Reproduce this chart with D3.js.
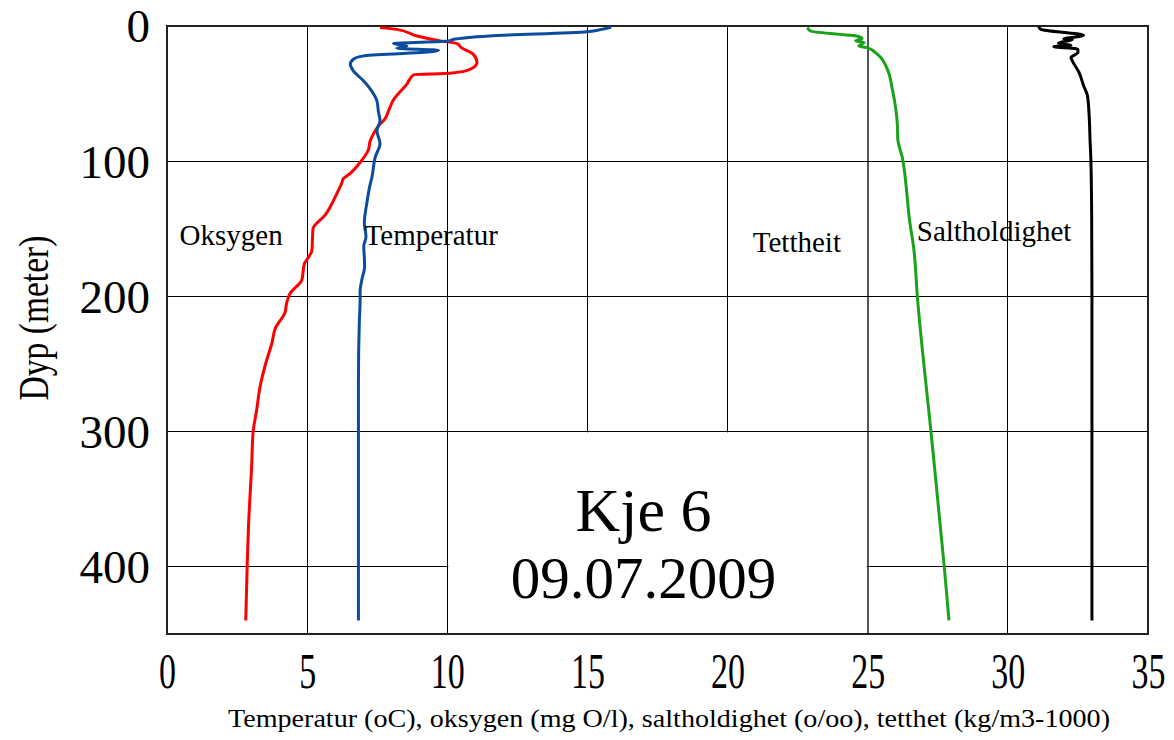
<!DOCTYPE html>
<html>
<head>
<meta charset="utf-8">
<script src="https://cdn.jsdelivr.net/npm/d3@7"></script>
<style>
  body { margin: 0; background: #fff; }
</style>
</head>
<body>
<script>
// CTD profile, Kje 6, 09.07.2009
const depthTicks = [0, 100, 200, 300, 400];
const valueTicks = [0, 5, 10, 15, 20, 25, 30, 35];

// oxygen (mg O/l) vs depth (m)
const oxyDepth = [1.2, 2.5, 7.4, 11, 13, 16, 21, 27, 32, 35, 36, 43, 55, 60, 63, 70, 72.5, 77.5, 85, 92, 101, 109, 113, 116, 124, 140, 150, 166, 173, 176, 188, 198, 205, 212, 224, 235, 247, 267, 284, 301, 326, 360, 400, 440];
const oxyValue = [7.6, 8.2, 8.92, 9.75, 10.35, 10.5, 10.93, 11.06, 10.82, 10.1, 8.8, 8.56, 8.07, 7.96, 7.9, 7.73, 7.6, 7.43, 7.25, 7.18, 6.89, 6.54, 6.29, 6.24, 6.06, 5.64, 5.21, 5.17, 4.99, 4.9, 4.81, 4.39, 4.27, 4.21, 3.86, 3.74, 3.56, 3.32, 3.2, 3.07, 3.02, 2.93, 2.86, 2.81];

// temperature (oC)
const tempDepth = [0.7, 2.5, 4.2, 7.4, 10, 11.1, 13.0, 14.8, 16.5, 18.0, 19.7, 22.1, 24.6, 28.3, 33.2, 40.6, 48, 55.4, 63, 70, 77.5, 87, 97, 112, 117, 131, 146, 156, 163, 171, 178, 188, 196, 203, 220, 264, 338, 440];
const tempValue = [15.85, 15.5, 15.0, 11.5, 10.2, 10.05, 8.08, 8.56, 8.2, 9.69, 9.04, 7.01, 6.65, 6.54, 6.65, 7.01, 7.3, 7.49, 7.54, 7.6, 7.49, 7.6, 7.43, 7.31, 7.25, 7.13, 7.04, 7.1, 7.02, 7.04, 7.05, 6.95, 6.89, 6.89, 6.86, 6.83, 6.83, 6.83];

// density (kg/m3-1000)
const densDepth = [1.2, 3.7, 6.2, 7.4, 9.4, 11, 12.3, 14.8, 16, 22, 32, 47, 74, 83, 98, 129, 140, 166, 200, 299, 400, 440];
const densValue = [22.85, 22.96, 24.0, 24.6, 24.8, 24.57, 24.87, 24.68, 24.98, 25.4, 25.7, 25.88, 26.06, 26.07, 26.24, 26.42, 26.47, 26.65, 26.77, 27.25, 27.73, 27.9];

// salinity (o/oo)
const saltDepth = [0.5, 2.5, 6.9, 9.6, 9.9, 12.8, 14.3, 15.3, 16.7, 17.5, 19.7, 23.4, 25.8, 34.4, 44, 51.7, 66, 83, 98, 140, 200, 300, 440];
const saltValue = [31.1, 31.18, 32.7, 32.0, 32.3, 31.8, 32.25, 31.64, 32.4, 32.5, 32.5, 32.25, 32.3, 32.54, 32.7, 32.84, 32.9, 32.93, 32.96, 32.99, 33.0, 33.0, 33.0];

const series = [
  { name: "Oksygen", depth: oxyDepth, value: oxyValue, color: "#ff0000" },
  { name: "Temperatur", depth: tempDepth, value: tempValue, color: "#0b4d9c" },
  { name: "Tettheit", depth: densDepth, value: densValue, color: "#1aa31a" },
  { name: "Saltholdighet", depth: saltDepth, value: saltValue, color: "#000000" }
];

const FONT = "Liberation Serif";

const width = 1174, height = 740;
const margin = { top: 26, right: 26, bottom: 106, left: 167 };
const w = width - margin.left - margin.right;
const h = height - margin.top - margin.bottom;

const svg = d3.select("body").append("svg")
  .attr("width", width).attr("height", height);

const g = svg.append("g").attr("transform", `translate(${margin.left},${margin.top})`);

const x = d3.scaleLinear().domain([0, 35]).range([0, w]);
const y = d3.scaleLinear().domain([0, 450]).range([0, h]);

// grid
g.append("g").selectAll("line").data(valueTicks.slice(1, -1)).join("line")
  .attr("x1", d => x(d)).attr("x2", d => x(d))
  .attr("y1", 0).attr("y2", h)
  .attr("stroke", d => d === 25 ? "#555" : "#000")
  .attr("stroke-width", d => d === 25 ? 2 : 1)
  .attr("shape-rendering", "crispEdges");

g.append("g").selectAll("line").data(depthTicks.slice(1)).join("line")
  .attr("x1", 0).attr("x2", w)
  .attr("y1", d => y(d)).attr("y2", d => y(d))
  .attr("stroke", "#000").attr("stroke-width", 1)
  .attr("shape-rendering", "crispEdges");

// white box behind station text
g.append("rect")
  .attr("x", x(10) + 1).attr("y", y(300) + 1)
  .attr("width", x(25) - x(10) - 2).attr("height", h - y(300) - 1)
  .attr("fill", "#fff");

// frame
g.append("rect")
  .attr("width", w).attr("height", h)
  .attr("fill", "none").attr("stroke", "#222").attr("stroke-width", 2);

// profiles
const line = d3.line().x(d => x(d[1])).y(d => y(d[0])).curve(d3.curveMonotoneY);
series.forEach(s => {
  g.append("path")
    .datum(d3.zip(s.depth, s.value))
    .attr("d", line)
    .attr("fill", "none")
    .attr("stroke", s.color)
    .attr("stroke-width", 3)
    .attr("stroke-linejoin", "round");
});

// axes
const xAxis = g.append("g").attr("transform", `translate(0,${h})`)
  .call(d3.axisBottom(x).tickValues(valueTicks).tickSize(0));
const yAxis = g.append("g")
  .call(d3.axisLeft(y).tickValues(depthTicks).tickSize(0).tickPadding(17));
[xAxis, yAxis].forEach(a => {
  a.select(".domain").remove();
  a.selectAll("text").attr("font-family", FONT).attr("fill", "#000");
});
xAxis.selectAll("text")
  .attr("font-size", 50).attr("y", 54).attr("dy", 0)
  .attr("transform", "scale(0.68,1)");
yAxis.selectAll("text").attr("font-size", 47).attr("dy", "0.34em");

// titles
svg.append("text")
  .attr("x", 669).attr("y", 727)
  .attr("text-anchor", "middle").attr("font-family", FONT).attr("font-size", 25)
  .attr("textLength", 882).attr("lengthAdjust", "spacingAndGlyphs")
  .text("Temperatur (oC), oksygen (mg O/l), saltholdighet (o/oo), tetthet (kg/m3-1000)");

svg.append("text")
  .attr("transform", "translate(48,318) rotate(-90) scale(0.78,1)")
  .attr("text-anchor", "middle").attr("font-family", FONT).attr("font-size", 43)
  .text("Dyp (meter)");

// curve labels
const labels = [
  { text: "Oksygen", v: 0.45, d: 162 },
  { text: "Temperatur", v: 7.05, d: 162 },
  { text: "Tettheit", v: 20.9, d: 167 },
  { text: "Saltholdighet", v: 26.75, d: 159 }
];
g.selectAll(".lbl").data(labels).join("text")
  .attr("class", "lbl")
  .attr("x", d => x(d.v)).attr("y", d => y(d.d))
  .attr("font-family", FONT).attr("font-size", 29)
  .text(d => d.text);

// station text
const mid = (x(10) + x(25)) / 2 - 14;
g.append("text")
  .attr("x", mid).attr("y", y(374))
  .attr("text-anchor", "middle").attr("font-family", FONT).attr("font-size", 62)
  .text("Kje 6");
g.append("text")
  .attr("x", mid).attr("y", y(423))
  .attr("text-anchor", "middle").attr("font-family", FONT).attr("font-size", 59)
  .text("09.07.2009");
</script>
</body>
</html>
